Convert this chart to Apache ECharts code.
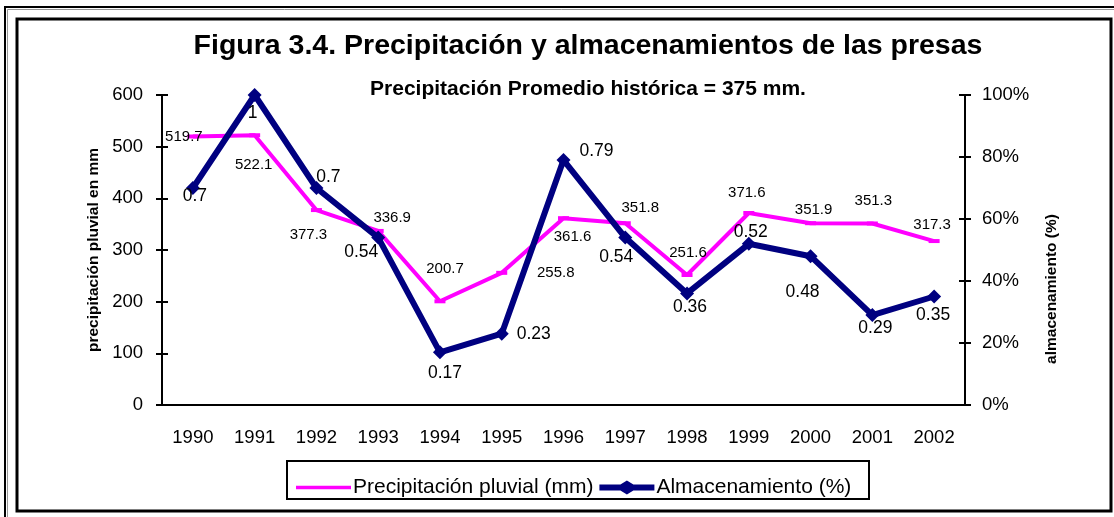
<!DOCTYPE html>
<html>
<head>
<meta charset="utf-8">
<script src="https://cdn.jsdelivr.net/npm/echarts@6/dist/echarts.min.js"></script>
<style>
  html, body { margin: 0; padding: 0; background: #fff; }
  #chart { width: 1114px; height: 517px; }
</style>
</head>
<body>
<div id="chart"></div>
<script>
// datos
const years = ["1990", "1991", "1992", "1993", "1994", "1995", "1996", "1997", "1998", "1999", "2000", "2001", "2002"];
const precipitacion = [519.7, 522.1, 377.3, 336.9, 200.7, 255.8, 361.6, 351.8, 251.6, 371.6, 351.9, 351.3, 317.3];
const almacenamiento = [0.7, 1, 0.7, 0.54, 0.17, 0.23, 0.79, 0.54, 0.36, 0.52, 0.48, 0.29, 0.35];

// desplazamiento de etiquetas (como en la hoja de Excel)
const precipOffsets = [[-9, 0], [-1, 30], [-8, 25], [14, -13], [5, -32], [54, 0], [9, 19], [15, -15], [1, -22], [-2, -20], [3, -13], [1, -23], [-2, -16]];
const almacOffsets = [[2, 8], [-2, 18], [12, -11], [-17, 15], [5, 21], [32, 0], [33, -9], [-9, 20], [3, 14], [2, -12], [-8, 36], [3, 13], [-1, 19]];

const font = "Liberation Sans";
const chart = echarts.init(document.getElementById("chart"));

const tickStyle = { lineStyle: { color: "#000", width: 2 }, length: 6 };

const options = {
  animation: false,
  textStyle: { fontFamily: font },
  grid: { left: 162, right: 149, top: 95, bottom: 112 },
  graphic: [
    // marco exterior
    { type: "rect", shape: { x: 5, y: 7, width: 1130, height: 530 }, style: { fill: "none", stroke: "#000", lineWidth: 2 }, silent: true },
    { type: "rect", shape: { x: 7.5, y: 9.5, width: 1130, height: 530 }, style: { fill: "none", stroke: "#999", lineWidth: 1 }, silent: true },
    // marco interior
    { type: "rect", shape: { x: 17, y: 19, width: 1094, height: 492 }, style: { fill: "none", stroke: "#000", lineWidth: 3 }, silent: true },
    // caja de leyenda
    { type: "rect", shape: { x: 287, y: 461, width: 582, height: 38 }, style: { fill: "none", stroke: "#000", lineWidth: 2 }, silent: true },
    {
      type: "text", x: 588, y: 46,
      style: { text: "Figura 3.4. Precipitación y almacenamientos de las presas", font: "bold 28.5px " + font, fill: "#000", textAlign: "center", textVerticalAlign: "middle" }
    },
    {
      type: "text", x: 588, y: 89,
      style: { text: "Precipitación Promedio histórica = 375 mm.", font: "bold 21px " + font, fill: "#000", textAlign: "center", textVerticalAlign: "middle" }
    },
    {
      type: "text", x: 1052, y: 289, rotation: Math.PI / 2,
      style: { text: "almacenamiento (%)", font: "bold 15.5px " + font, fill: "#000", textAlign: "center", textVerticalAlign: "middle" }
    }
  ],
  legend: {
    left: 291,
    top: 472,
    itemWidth: 55,
    itemHeight: 14,
    itemGap: 6,
    textStyle: { fontSize: 21, color: "#000", fontFamily: font, padding: [0, 0, 0, -3] },
    data: [
      { name: "Precipitación pluvial (mm)", icon: "path://M0,0 L60,0 L60,4 L0,4 Z" },
      { name: "Almacenamiento (%)", icon: "path://M0,4 L21,4 L27.5,0 L34,4 L55,4 L55,10 L34,10 L27.5,14 L21,10 L0,10 Z" }
    ]
  },
  xAxis: [
    {
      type: "category",
      data: years,
      axisLine: { lineStyle: { color: "#000", width: 2 } },
      axisTick: tickStyle,
      axisLabel: { color: "#000", fontSize: 18.5, margin: 23 }
    },
    {
      type: "category",
      data: years,
      position: "bottom",
      axisLine: { show: false },
      axisTick: Object.assign({ inside: true }, tickStyle),
      axisLabel: { show: false }
    }
  ],
  yAxis: [
    {
      type: "value",
      min: 0, max: 600, interval: 100,
      name: "precipitación pluvial en mm",
      nameLocation: "middle",
      nameGap: 60,
      nameTextStyle: { fontWeight: "bold", fontSize: 15.5, color: "#000" },
      axisLine: { show: true, lineStyle: { color: "#000", width: 2 } },
      axisTick: Object.assign({ show: true }, tickStyle),
      axisLabel: { color: "#000", fontSize: 18.5, margin: 19 },
      splitLine: { show: false }
    },
    {
      type: "value",
      min: 0, max: 1, interval: 0.2,
      position: "right",
      axisLine: { show: true, lineStyle: { color: "#000", width: 2 } },
      axisTick: Object.assign({ show: true }, tickStyle),
      axisLabel: { color: "#000", fontSize: 18.5, margin: 17, formatter: (v) => Math.round(v * 100) + "%" },
      splitLine: { show: false }
    },
    {
      type: "value",
      min: 0, max: 600, interval: 100,
      position: "left",
      axisLine: { show: false },
      axisTick: Object.assign({ show: true, inside: true }, tickStyle),
      axisLabel: { show: false },
      splitLine: { show: false }
    },
    {
      type: "value",
      min: 0, max: 1, interval: 0.2,
      position: "right",
      axisLine: { show: false },
      axisTick: Object.assign({ show: true, inside: true }, tickStyle),
      axisLabel: { show: false },
      splitLine: { show: false }
    }
  ],
  series: [
    {
      name: "Precipitación pluvial (mm)",
      type: "line",
      yAxisIndex: 0,
      symbol: "rect",
      symbolSize: [11, 4],
      lineStyle: { color: "#ff00ff", width: 4 },
      itemStyle: { color: "#ff00ff" },
      label: { show: true, position: "inside", color: "#000", fontSize: 15, align: "center", verticalAlign: "middle" },
      z: 2,
      data: precipitacion.map((v, i) => ({ value: v, label: { offset: precipOffsets[i] } }))
    },
    {
      name: "Almacenamiento (%)",
      type: "line",
      yAxisIndex: 1,
      symbol: "diamond",
      symbolSize: 14,
      lineStyle: { color: "#000080", width: 6 },
      itemStyle: { color: "#000080" },
      label: { show: true, position: "inside", color: "#000", fontSize: 17.5, align: "center", verticalAlign: "middle" },
      z: 3,
      data: almacenamiento.map((v, i) => ({ value: v, label: { offset: almacOffsets[i] } }))
    }
  ]
};

chart.setOption(options);

window.addEventListener("resize", () => {
  chart.resize();
});
</script>
</body>
</html>
